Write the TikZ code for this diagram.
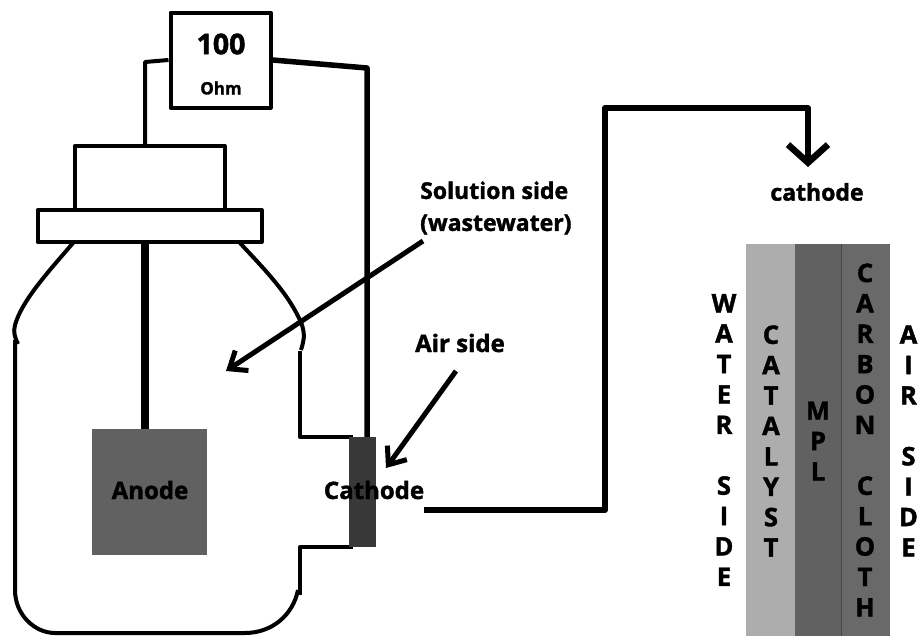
\documentclass[tikz,border=0pt]{standalone}
\usepackage{fontspec}
\setmainfont{Open Sans}[BoldFeatures={FakeBold=1.6}]
\usetikzlibrary{positioning,arrows.meta}

\begin{document}
\begin{tikzpicture}[x=1pt, y=-1pt, font=\bfseries,
                    c/.style={line width=4pt, line join=round},
                    box/.style={c, draw, fill=white, inner sep=0pt},
                    rod/.style={c, line width=8.5pt},
                    point/.style={c, line width=5pt, -{Straight Barb[length=15pt, width=24pt, line width=5pt]}},
                    lbl/.style={inner sep=0pt, font=\bfseries\fontsize{23}{32}\selectfont},
                    vert/.style={inner sep=0pt, align=center, font=\bfseries\fontsize{25.5}{30.4}\selectfont}]
  \useasboundingbox (0,0) rectangle (919,637);
  % layers
  \node[fill=black!32, minimum width=49pt, minimum height=392pt, inner sep=0pt] (catalyst) at (770.5,440) {};
  \node[fill=black!62, minimum width=46pt, minimum height=392pt, inner sep=0pt, right=0pt of catalyst] (mpl) {};
  \node[fill=black!59, minimum width=48pt, minimum height=392pt, inner sep=0pt, right=0pt of mpl] (cloth) {};
  \draw[black!72, line width=1.5pt] (cloth.north west) -- (cloth.south west);
  % bottle
  \draw[c] (73,243) .. controls (50,270) and (22,300) .. (15,325) .. controls (13,332) and (15,338) .. (18,344);
  \draw[c] (15,340) -- (15,590) .. controls (15,615) and (35,633) .. (55,633) -- (245,633)
           .. controls (272,633) and (293,615) .. (298,590);
  \draw[c] (300,595) -- (300,547) -- (353,547);
  \draw[c] (353,437) -- (300,437) -- (300,351);
  \draw[c] (240,243) .. controls (265,270) and (290,295) .. (302,325) .. controls (305,335) and (304,340) .. (301,350);
  \node[box, minimum width=150pt, minimum height=64pt] (cap) at (149.5,178) {};
  \node[box, minimum width=224pt, minimum height=32pt] (flange) at (149.5,226) {};
  \node[box, minimum width=100pt, minimum height=95pt] (res) at (220.5,60) {};
  \node[fill=black!62, minimum width=115pt, minimum height=126pt, inner sep=0pt] (anode) at (149.5,492) {};
  \node[fill=black!78, minimum width=27pt, minimum height=110pt, inner sep=0pt] (cath) at (362.5,492) {};
  % wires
  \coordinate (capin) at (145,146);
  \coordinate (resbend) at (367,68);
  \draw[c] (res.west) -- (145,62) -- (capin);
  \draw[c, line width=5.5pt] (res.east) -- (resbend) -- (resbend |- cath.north);
  \draw[rod] (flange.south -| capin) -- (anode.north -| capin);
  % labels
  \node[inner sep=0pt, font=\bfseries\fontsize{28.5}{24}\selectfont] (hundred) at (221,44) {100};
  \node[inner sep=0pt, font=\bfseries\fontsize{17}{13}\selectfont] (ohm) at (221,88) {Ohm};
  \node[lbl, anchor=west, align=left] (solution) at (420,208) {Solution side\\(wastewater)};
  \node[lbl, font=\bfseries\fontsize{24}{32}\selectfont] (airside) at (460,343) {Air side};
  \node[lbl, font=\bfseries\fontsize{24}{32}\selectfont] (anodelbl) at (150,490) {Anode};
  \node[lbl, font=\bfseries\fontsize{24}{32}\selectfont] (cathlbl) at (374,490) {Cathode};
  \node[lbl] (cathtop) at (817,192) {cathode};
  % arrows
  \coordinate (solfrom) at (423,241);
  \coordinate (soltip) at (226,371);
  \coordinate (airfrom) at (456,371);
  \coordinate (airtip) at (386,468);
  \coordinate (wirefrom) at (424,510);
  \coordinate (wiretip) at (808,167);
  \draw[point] (solfrom) -- (soltip);
  \draw[point] (airfrom) -- (airtip);
  \draw[c, line width=6pt, -{Straight Barb[length=18pt, width=40pt, line width=6.5pt]}] (wirefrom) -- (605,510) -- (605,108) -- (808,108) -- (wiretip);
  % vertical words
  \node[vert] (water) at (724,440) {W\\A\\T\\E\\R\\~\\S\\I\\D\\E};
  \node[vert] (catword) at (771,441) {C\\A\\T\\A\\L\\Y\\S\\T};
  \node[vert] (mplword) at (818,441) {M\\P\\L};
  \node[vert] (clothword) at (865,440) {C\\A\\R\\B\\O\\N\\~\\C\\L\\O\\T\\H};
  \node[vert] (airword) at (908.5,441) {A\\I\\R\\~\\S\\I\\D\\E};
\end{tikzpicture}
\end{document}
